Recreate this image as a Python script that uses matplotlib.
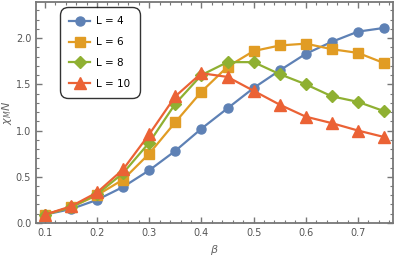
import numpy as np
import matplotlib
matplotlib.use('Agg')
import matplotlib.pyplot as plt
from matplotlib.ticker import MultipleLocator

# beta values and chi_M N for each lattice size
beta = [0.10, 0.15, 0.20, 0.25, 0.30, 0.35, 0.40, 0.45, 0.50, 0.55, 0.60, 0.65, 0.70, 0.75]
chi_L4 = [0.09, 0.15, 0.25, 0.39, 0.57, 0.78, 1.02, 1.24, 1.46, 1.65, 1.83, 1.96, 2.07, 2.11]
chi_L6 = [0.09, 0.17, 0.30, 0.47, 0.75, 1.09, 1.42, 1.69, 1.86, 1.92, 1.94, 1.88, 1.84, 1.73]
chi_L8 = [0.09, 0.17, 0.31, 0.54, 0.87, 1.29, 1.60, 1.74, 1.74, 1.61, 1.50, 1.37, 1.31, 1.21]
chi_L10 = [0.09, 0.18, 0.33, 0.58, 0.96, 1.37, 1.62, 1.58, 1.43, 1.28, 1.15, 1.08, 1.00, 0.93]
labels = ['L = 4', 'L = 6', 'L = 8', 'L = 10']

series = [chi_L4, chi_L6, chi_L8, chi_L10]
colors = ['#5E81B5', '#E19C24', '#8FB032', '#EB6235']
markers = ['o', 's', 'D', '^']
msizes = [6.5, 6.5, 6, 8]

fig = plt.figure(figsize=(3.97, 2.56), dpi=100)
ax = fig.add_axes([0.0907, 0.129, 0.899, 0.863])

for y, c, m, ms, lab in zip(series, colors, markers, msizes, labels):
    ax.plot(beta, y, color=c, marker=m, markersize=ms, linewidth=1.6, label=lab)

ax.set_xlim(0.083, 0.767)
ax.set_ylim(0, 2.39)
ax.xaxis.set_major_locator(MultipleLocator(0.1))
ax.xaxis.set_minor_locator(MultipleLocator(0.02))
ax.yaxis.set_major_locator(MultipleLocator(0.5))
ax.yaxis.set_minor_locator(MultipleLocator(0.1))

grey = '#777777'
for s in ax.spines.values():
    s.set_color(grey)
    s.set_linewidth(1.3)
ax.tick_params(which='both', direction='in', top=True, right=True, color=grey,
               labelcolor='#555555', labelsize=7)
ax.tick_params(which='major', length=4, width=1)
ax.tick_params(which='minor', length=2, width=0.8)

ax.set_xlabel(r'$\beta$', color='#666666', fontsize=8)
ax.set_ylabel(r'$\chi_M N$', color='#666666', fontsize=8, labelpad=1)

leg = ax.legend(loc='upper left', bbox_to_anchor=(0.076, 0.964), borderaxespad=0,
                fontsize=7.5, frameon=True, fancybox=True, edgecolor='black',
                handlelength=2.0, handletextpad=0.6, labelspacing=1.05, borderpad=0.6)
leg.get_frame().set_linewidth(1.0)
leg.get_frame().set_boxstyle('round', pad=0.3, rounding_size=0.8)

fig.savefig('out.png', dpi=100)
